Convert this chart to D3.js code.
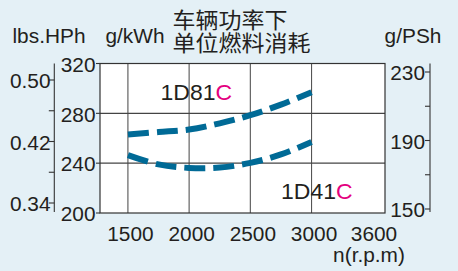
<!DOCTYPE html>
<html><head><meta charset="utf-8">
<script src="https://cdn.jsdelivr.net/npm/d3@7"></script>
<style>body{margin:0;background:#e4f0f6;overflow:hidden}svg{display:block}</style>
</head><body>
<svg id="c" width="458" height="271"></svg>
<script>
// ---- data ----
const rpm = [1500, 1750, 2000, 2250, 2500, 2750, 3000];
const fuel1D81C = [263, 265, 267, 272, 278.5, 287, 297];
const fuel1D41C = [246.5, 239, 236.2, 236.5, 240.2, 247, 257];
const xTickValues = [1500, 2000, 2500, 3000, 3600];
const xGridValues = [1500, 2000, 2500, 3000];
const kwhTicks = [200, 240, 280, 320];
const kwhGrid = [240, 280];
const lbsTicks = [0.34, 0.38, 0.42, 0.46, 0.50];
const lbsLabels = [0.34, 0.42, 0.50];
const pshTicks = [150, 170, 190, 210, 230];
const pshLabels = [150, 190, 230];
const titleLines = ["车辆功率下", "单位燃料消耗"];
const seriesNames = ["1D81", "1D41"];

// ---- layout ----
const L = 100, R = 385, T = 63.5, B = 213;
const SX = 1.07;
const ink = "#231f20", curveCol = "#006a96", accent = "#e4007f";
const LAT = "'Liberation Sans', Arial, sans-serif";
const CJK = "'Noto Sans CJK SC', sans-serif";

const svg = d3.select("#c");
svg.append("rect").attr("width", 458).attr("height", 271).attr("fill", "#e4f0f6");

const x = d3.scaleLinear().domain([1272, 3600]).range([L, R]);
const y = d3.scaleLinear().domain([200, 320]).range([B, T]);
const yLbs = d3.scaleLinear().domain([0.34, 0.50]).range([203, 80]);
const yPsh = d3.scaleLinear().domain([150, 230]).range([209, 72]);

function txt(px, py, s, size, anchor, family) {
  return svg.append("text")
    .attr("transform", `translate(${px},${py}) scale(${SX},1)`)
    .attr("text-anchor", anchor)
    .style("font-family", family || LAT)
    .style("font-size", size + "px")
    .attr("fill", ink)
    .text(s);
}

// plot area
svg.append("rect").attr("x", L).attr("y", T).attr("width", R - L).attr("height", B - T)
  .attr("fill", "#fff");

// grid
svg.selectAll(".vg").data(xGridValues).join("line")
  .attr("x1", d => x(d)).attr("x2", d => x(d)).attr("y1", T).attr("y2", B)
  .attr("stroke", "#555").attr("stroke-width", 1.1);
svg.selectAll(".hg").data(kwhGrid).join("line")
  .attr("x1", L).attr("x2", R).attr("y1", d => y(d)).attr("y2", d => y(d))
  .attr("stroke", "#444").attr("stroke-width", 1.1);

// border
svg.append("rect").attr("x", L).attr("y", T).attr("width", R - L).attr("height", B - T)
  .attr("fill", "none").attr("stroke", "#333").attr("stroke-width", 1.2);

// curves
const line = d3.line().x((d, i) => x(rpm[i])).y(d => y(d)).curve(d3.curveCatmullRom.alpha(0.5));
[fuel1D81C, fuel1D41C].forEach(s => {
  svg.append("path").attr("d", line(s)).attr("fill", "none")
    .attr("stroke", curveCol).attr("stroke-width", 6)
    .attr("stroke-dasharray", "21 8");
});

// g/kWh axis (left of plot)
kwhTicks.forEach(v => {
  svg.append("line").attr("x1", L - 4).attr("x2", L).attr("y1", y(v)).attr("y2", y(v))
    .attr("stroke", "#333").attr("stroke-width", 1.1);
  txt(L - 4.5, y(v) + 8.3, String(v), 19.5, "end");
});

// lbs.HPh axis
const lbsX = 54.3;
svg.append("line").attr("x1", lbsX).attr("x2", lbsX).attr("y1", T).attr("y2", 212)
  .attr("stroke", "#333").attr("stroke-width", 1.1);
lbsTicks.forEach(v => {
  svg.append("line").attr("x1", lbsX - 5.5).attr("x2", lbsX).attr("y1", yLbs(v)).attr("y2", yLbs(v))
    .attr("stroke", "#333").attr("stroke-width", 1.1);
});
lbsLabels.forEach(v => txt(50.5, yLbs(v) + 8.3, v.toFixed(2), 19.5, "end"));

// g/PSh axis
const pshX = 430;
svg.append("line").attr("x1", pshX).attr("x2", pshX).attr("y1", T).attr("y2", 212)
  .attr("stroke", "#333").attr("stroke-width", 1.1);
pshTicks.forEach(v => {
  svg.append("line").attr("x1", pshX - 5).attr("x2", pshX).attr("y1", yPsh(v)).attr("y2", yPsh(v))
    .attr("stroke", "#333").attr("stroke-width", 1.1);
});
pshLabels.forEach(v => txt(425, yPsh(v) + 8, String(v), 19.5, "end"));

// x tick labels
xTickValues.forEach(v => {
  txt(Math.min(x(v) + 2.5, 374), 241, String(v), 19.5, "middle");
});
txt(369, 261.5, "n(r.p.m)", 19.5, "middle");

// axis titles
txt(49, 43, "lbs.HPh", 19.5, "middle");
txt(135, 43, "g/kWh", 19.5, "middle");
txt(413, 43, "g/PSh", 19.5, "middle");

// chinese title
txt(172.5, 28, titleLines[0], 21.5, "start", CJK);
txt(172.5, 50.5, titleLines[1], 21.5, "start", CJK);

// series labels
const l1 = txt(160.5, 100, seriesNames[0], 21.5, "start");
l1.append("tspan").attr("fill", accent).text("C");
const l2 = txt(281, 199, seriesNames[1], 21.5, "start");
l2.append("tspan").attr("fill", accent).text("C");
</script>
</body></html>
